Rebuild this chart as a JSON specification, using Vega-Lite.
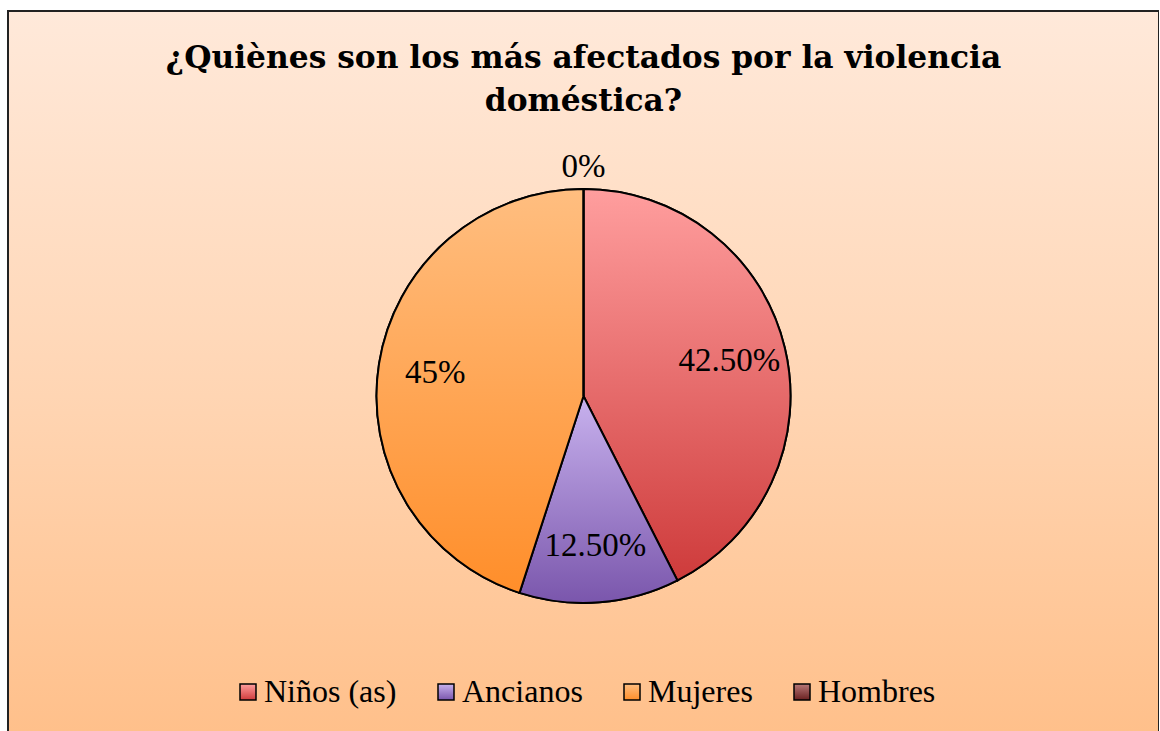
{
  "$schema": "https://vega.github.io/schema/vega-lite/v6.json",
  "width": 1151,
  "height": 770,
  "autosize": {"type": "none"},
  "padding": {"left": 8, "top": 11, "right": 0, "bottom": 0},
  "background": "white",
  "config": {
    "view": {"stroke": null},
    "legend": {
      "labelFont": "Liberation Serif",
      "labelFontSize": 32,
      "labelColor": "#000000",
      "labelLimit": 400,
      "labelOffset": 0,
      "symbolType": "square",
      "symbolSize": 256,
      "symbolStrokeWidth": 1.5,
      "symbolOpacity": 1,
      "columnPadding": 33,
      "padding": 0
    }
  },
  "title": {
    "text": ["¿Quiènes son los más afectados por la violencia", "doméstica?"],
    "font": "DejaVu Serif",
    "fontSize": 31.3,
    "fontWeight": "bold",
    "color": "#000000",
    "anchor": "middle",
    "frame": "group",
    "offset": -107,
    "lineHeight": 43
  },
  "layer": [
    {
      "data": {"values": [{"fondo": 1}]},
      "mark": {
        "type": "rect",
        "stroke": "#222222",
        "strokeWidth": 2,
        "fill": {"gradient": "linear", "x1": 0, "y1": 0, "x2": 0, "y2": 1,
          "stops": [{"offset": 0, "color": "#FFE9DA"}, {"offset": 0.5, "color": "#FFD5B3"}, {"offset": 1, "color": "#FFBD85"}]}
      },
      "encoding": {}
    },
    {
      "data": {"name": "main"},
      "layer": [
        {
          "mark": {"type": "arc", "outerRadius": 207, "filled": false, "strokeWidth": 2},
          "encoding": {
            "theta": {"field": "pct", "type": "quantitative", "stack": true},
            "order": {"field": "idx", "type": "quantitative"},
            "color": {
              "field": "grupo",
              "type": "nominal",
              "scale": {
                "domain": ["Niños (as)", "Ancianos", "Mujeres", "Hombres"],
                "range": ["#000000", "#000000", "#000000", "#000000"]
              },
              "legend": {
                "title": null, "orient": "none", "direction": "horizontal", "columns": 4, "legendX": 224, "legendY": 665,
                "encode": {
                  "symbols": {
                    "update": {
                      "fill": [
                        {"test": "datum.value === 'Niños (as)'", "value": {"gradient": "linear", "x1": 0, "y1": 0, "x2": 0, "y2": 1, "stops": [{"offset": 0, "color": "#FF9E9E"}, {"offset": 1, "color": "#CE3B3B"}]}},
                        {"test": "datum.value === 'Ancianos'", "value": {"gradient": "linear", "x1": 0, "y1": 0, "x2": 0, "y2": 1, "stops": [{"offset": 0, "color": "#C8B2EE"}, {"offset": 1, "color": "#7A56AC"}]}},
                        {"test": "datum.value === 'Mujeres'", "value": {"gradient": "linear", "x1": 0, "y1": 0, "x2": 0, "y2": 1, "stops": [{"offset": 0, "color": "#FFBE80"}, {"offset": 1, "color": "#FF8E2A"}]}},
                        {"value": {"gradient": "linear", "x1": 0, "y1": 0, "x2": 0, "y2": 1, "stops": [{"offset": 0, "color": "#B87878"}, {"offset": 1, "color": "#6A2020"}]}}
                      ]
                    }
                  }
                }
              }
            }
          }
        },
        {
          "mark": {"type": "arc", "outerRadius": 207, "stroke": "#000000", "strokeWidth": 2},
          "encoding": {
            "theta": {"field": "pct", "type": "quantitative", "stack": true},
            "order": {"field": "idx", "type": "quantitative"},
            "fill": {
              "condition": [
                {"test": "datum.grupo === 'Niños (as)'", "value": {"gradient": "linear", "x1": 0, "y1": 0, "x2": 0, "y2": 1, "stops": [{"offset": 0, "color": "#FF9E9E"}, {"offset": 1, "color": "#CE3B3B"}]}},
                {"test": "datum.grupo === 'Ancianos'", "value": {"gradient": "linear", "x1": 0, "y1": 0, "x2": 0, "y2": 1, "stops": [{"offset": 0, "color": "#C8B2EE"}, {"offset": 1, "color": "#7A56AC"}]}},
                {"test": "datum.grupo === 'Mujeres'", "value": {"gradient": "linear", "x1": 0, "y1": 0, "x2": 0, "y2": 1, "stops": [{"offset": 0, "color": "#FFBE80"}, {"offset": 1, "color": "#FF8E2A"}]}}
              ],
              "value": {"gradient": "linear", "x1": 0, "y1": 0, "x2": 0, "y2": 1, "stops": [{"offset": 0, "color": "#B87878"}, {"offset": 1, "color": "#6A2020"}]}
            }
          }
        },
        {
          "mark": {"type": "text", "radius": 150, "font": "Liberation Serif", "fontSize": 33, "color": "#000000"},
          "encoding": {
            "theta": {"field": "pct", "type": "quantitative", "stack": true},
            "order": {"field": "idx", "type": "quantitative"},
            "text": {"condition": {"test": "datum.pct > 0", "field": "label"}, "value": ""}
          }
        },
        {
          "mark": {"type": "text", "radius": 229, "font": "Liberation Serif", "fontSize": 33, "color": "#000000"},
          "encoding": {
            "theta": {"field": "pct", "type": "quantitative", "stack": true},
            "order": {"field": "idx", "type": "quantitative"},
            "text": {"condition": {"test": "datum.pct == 0", "field": "label"}, "value": ""}
          }
        }
      ]
    }
  ],
  "datasets": {
    "main": [
      {"grupo": "Niños (as)", "pct": 42.5, "label": "42.50%", "idx": 1},
      {"grupo": "Ancianos", "pct": 12.5, "label": "12.50%", "idx": 2},
      {"grupo": "Mujeres", "pct": 45, "label": "45%", "idx": 3},
      {"grupo": "Hombres", "pct": 0, "label": "0%", "idx": 4}
    ]
  }
}
